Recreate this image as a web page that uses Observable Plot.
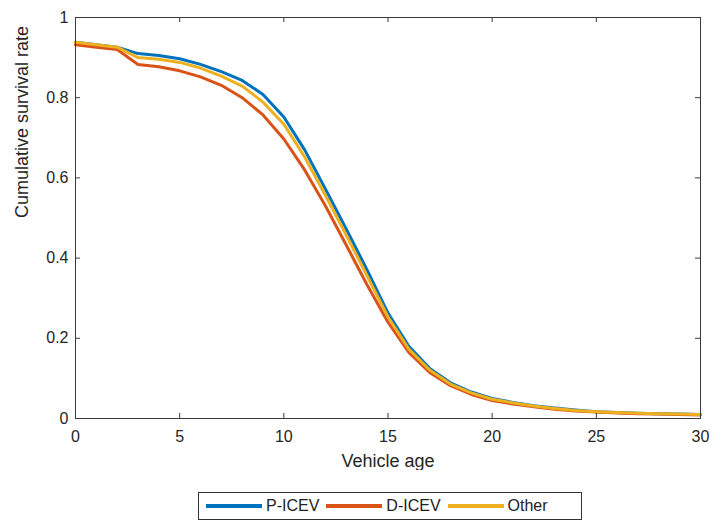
<!DOCTYPE html>
<html>
<head>
<meta charset="utf-8">
<script src="https://cdn.jsdelivr.net/npm/d3@7"></script>
<script src="https://cdn.jsdelivr.net/npm/@observablehq/plot@0.6"></script>
<style>
  html, body { margin: 0; padding: 0; background: #fff; }
  body { width: 716px; height: 523px; overflow: hidden; font-family: "Liberation Sans", Arial, sans-serif; }
  #legend { position: absolute; left: 198px; top: 492px; width: 382px; height: 26px; border: 1px solid #333; display: flex; align-items: center; font-size: 16px; color: #222; box-sizing: content-box; }
  .item { display: flex; align-items: center; }
  .sw { width: 56px; height: 4px; margin-left: 7px; margin-right: 4px; }
</style>
</head>
<body>
<div id="chart"></div>
<div id="legend"></div>
<script>
const ages = d3.range(0, 31);
const seriesNames = ["P-ICEV", "D-ICEV", "Other"];
const seriesColors = ["#0072BD", "#D95319", "#EDB120"];
const pIcev = [0.938, 0.932, 0.926, 0.910, 0.905, 0.897, 0.883, 0.865, 0.843, 0.808, 0.752, 0.670, 0.572, 0.472, 0.370, 0.263, 0.180, 0.125, 0.089, 0.066, 0.050, 0.040, 0.032, 0.026, 0.021, 0.017, 0.015, 0.013, 0.012, 0.011, 0.010];
const dIcev = [0.932, 0.926, 0.920, 0.883, 0.877, 0.867, 0.852, 0.831, 0.800, 0.757, 0.697, 0.620, 0.530, 0.432, 0.333, 0.240, 0.165, 0.115, 0.082, 0.060, 0.045, 0.036, 0.029, 0.023, 0.019, 0.016, 0.014, 0.012, 0.011, 0.010, 0.009];
const other = [0.938, 0.932, 0.926, 0.900, 0.896, 0.888, 0.874, 0.854, 0.829, 0.789, 0.734, 0.652, 0.556, 0.457, 0.355, 0.253, 0.173, 0.121, 0.086, 0.064, 0.048, 0.039, 0.031, 0.025, 0.020, 0.017, 0.015, 0.013, 0.012, 0.011, 0.010];
const xTicks = [0, 5, 10, 15, 20, 25, 30];
const yTicks = [0, 0.2, 0.4, 0.6, 0.8, 1];

const seriesValues = [pIcev, dIcev, other];
const rows = [];
seriesNames.forEach((name, i) => ages.forEach((a, j) => rows.push({age: a, value: seriesValues[i][j], series: name})));

const axisColor = "#3a3a3a";
const plot = Plot.plot({
  width: 716,
  height: 470,
  marginLeft: 75,
  marginRight: 16,
  marginTop: 17,
  marginBottom: 52,
  style: {fontFamily: "'Liberation Sans', Arial, sans-serif", fontSize: "16px", color: "#262626", background: "#fff"},
  x: {domain: [0, 30]},
  y: {domain: [0, 1]},
  color: {domain: seriesNames, range: seriesColors},
  marks: [
    Plot.line(rows, {x: "age", y: "value", stroke: "series", z: "series", strokeWidth: 3, strokeLinejoin: "round"}),
    Plot.frame({stroke: axisColor, strokeWidth: 1}),
    Plot.ruleX(xTicks, {x: d => d, y1: 0, y2: 0.0125, stroke: axisColor}),
    Plot.ruleX(xTicks, {x: d => d, y1: 1, y2: 0.9875, stroke: axisColor}),
    Plot.ruleY(yTicks, {y: d => d, x1: 0, x2: 0.24, stroke: axisColor}),
    Plot.ruleY(yTicks, {y: d => d, x1: 30, x2: 29.76, stroke: axisColor}),
    Plot.axisX(xTicks, {tickSize: 0, tickPadding: 12, fontSize: 16, fill: "#262626", label: null}),
    Plot.axisY(yTicks, {tickSize: 0, tickPadding: 7, fontSize: 16, fill: "#262626", tickFormat: d => String(d), label: null}),
    Plot.text(["Vehicle age"], {frameAnchor: "bottom", dy: 48, fontSize: 18, fill: "#262626", text: d => d}),
    Plot.text(["Cumulative survival rate"], {frameAnchor: "left", dx: -53, rotate: -90, fontSize: 18, fill: "#262626", text: d => d})
  ]
});
document.getElementById("chart").appendChild(plot);

const legend = document.getElementById("legend");
seriesNames.forEach((name, i) => {
  const it = document.createElement("div");
  it.className = "item";
  const sw = document.createElement("div");
  sw.className = "sw";
  sw.style.background = seriesColors[i];
  const t = document.createElement("span");
  t.textContent = name;
  it.appendChild(sw);
  it.appendChild(t);
  legend.appendChild(it);
});
</script>
</body>
</html>
